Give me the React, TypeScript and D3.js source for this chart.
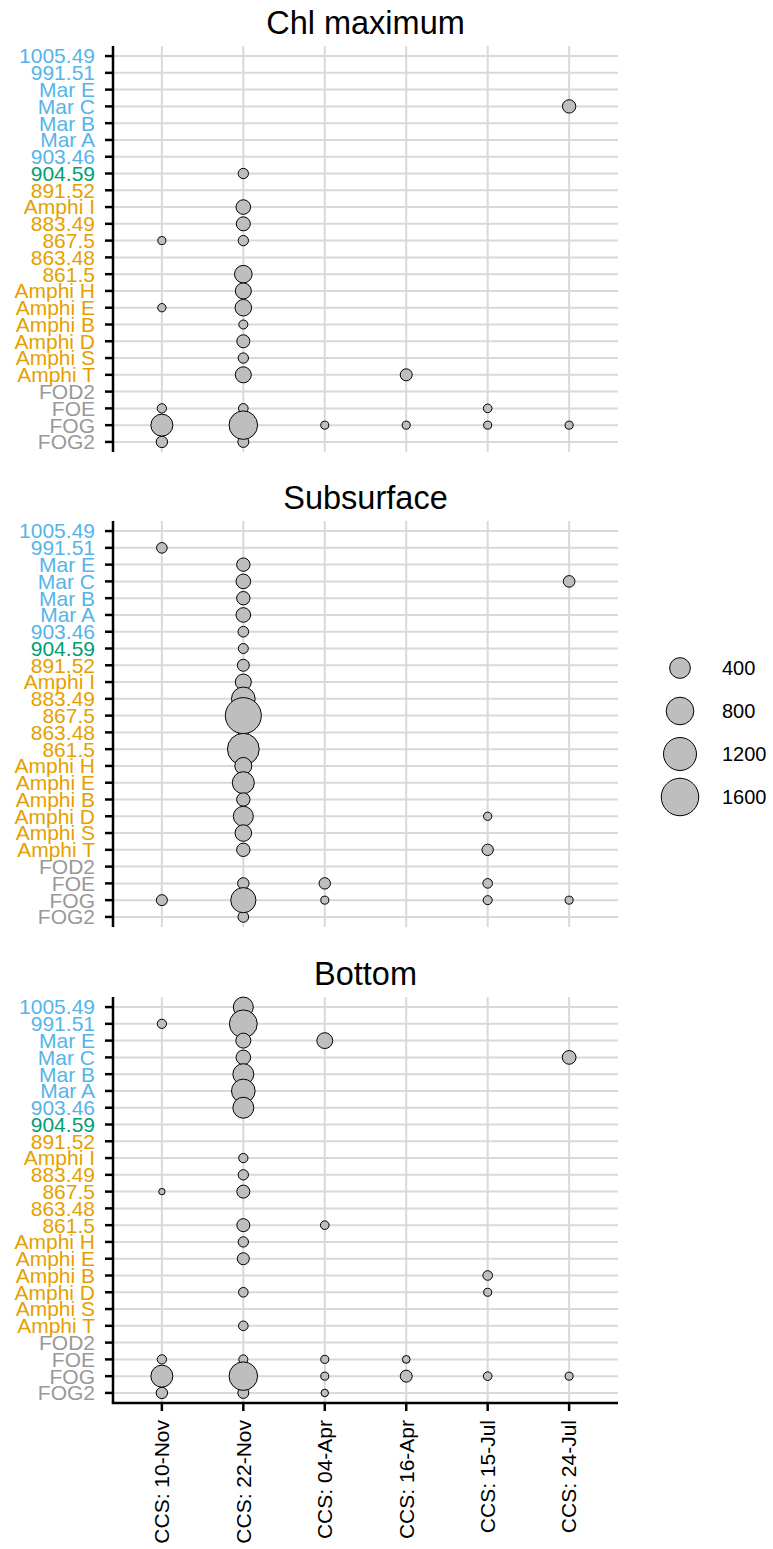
import React from "react";
import * as d3 from "d3";

const sites = ["1005.49","991.51","Mar E","Mar C","Mar B","Mar A","903.46","904.59","891.52","Amphi I","883.49","867.5","863.48","861.5","Amphi H","Amphi E","Amphi B","Amphi D","Amphi S","Amphi T","FOD2","FOE","FOG","FOG2"];
const siteGroup = ["blue","blue","blue","blue","blue","blue","blue","green","orange","orange","orange","orange","orange","orange","orange","orange","orange","orange","orange","orange","gray","gray","gray","gray"];
const groupColors: Record<string,string> = { blue: "#56B4E9", green: "#009E73", orange: "#E69F00", gray: "#999999" };
const dates = ["CCS: 10-Nov","CCS: 22-Nov","CCS: 04-Apr","CCS: 16-Apr","CCS: 15-Jul","CCS: 24-Jul"];
const depths = ["Chl maximum","Subsurface","Bottom"];
const legendBreaks = [400, 800, 1200, 1600];

type Row = [string, string, number];

const chlMaximum: Row[] = [
  ["867.5","CCS: 10-Nov",23],["Amphi E","CCS: 10-Nov",27],["FOE","CCS: 10-Nov",40],["FOG2","CCS: 10-Nov",78],["FOG","CCS: 10-Nov",462],
  ["904.59","CCS: 22-Nov",57],["Amphi I","CCS: 22-Nov",160],["883.49","CCS: 22-Nov",143],["867.5","CCS: 22-Nov",57],["861.5","CCS: 22-Nov",265],
  ["Amphi H","CCS: 22-Nov",206],["Amphi E","CCS: 22-Nov",225],["Amphi B","CCS: 22-Nov",36],["Amphi D","CCS: 22-Nov",116],["Amphi S","CCS: 22-Nov",57],
  ["Amphi T","CCS: 22-Nov",206],["FOE","CCS: 22-Nov",45],["FOG2","CCS: 22-Nov",70],["FOG","CCS: 22-Nov",860],
  ["FOG","CCS: 04-Apr",23],
  ["Amphi T","CCS: 16-Apr",91],["FOG","CCS: 16-Apr",23],
  ["FOE","CCS: 15-Jul",31],["FOG","CCS: 15-Jul",23],
  ["Mar C","CCS: 24-Jul",125],["FOG","CCS: 24-Jul",23],
];

const subsurface: Row[] = [
  ["991.51","CCS: 10-Nov",63],["FOG","CCS: 10-Nov",70],
  ["Mar E","CCS: 22-Nov",125],["Mar C","CCS: 22-Nov",160],["Mar B","CCS: 22-Nov",125],["Mar A","CCS: 22-Nov",160],["903.46","CCS: 22-Nov",63],
  ["904.59","CCS: 22-Nov",51],["891.52","CCS: 22-Nov",91],["Amphi I","CCS: 22-Nov",206],["883.49","CCS: 22-Nov",550],["863.48","CCS: 22-Nov",51],
  ["867.5","CCS: 22-Nov",1460],["861.5","CCS: 22-Nov",1100],["Amphi H","CCS: 22-Nov",241],["Amphi E","CCS: 22-Nov",462],["Amphi B","CCS: 22-Nov",125],
  ["Amphi D","CCS: 22-Nov",365],["Amphi S","CCS: 22-Nov",225],["Amphi T","CCS: 22-Nov",125],["FOE","CCS: 22-Nov",78],["FOG2","CCS: 22-Nov",63],["FOG","CCS: 22-Nov",640],
  ["FOE","CCS: 04-Apr",78],["FOG","CCS: 04-Apr",23],
  ["Amphi D","CCS: 15-Jul",27],["Amphi T","CCS: 15-Jul",78],["FOE","CCS: 15-Jul",45],["FOG","CCS: 15-Jul",36],
  ["Mar C","CCS: 24-Jul",83],["FOG","CCS: 24-Jul",23],
];

const bottom: Row[] = [
  ["991.51","CCS: 10-Nov",40],["867.5","CCS: 10-Nov",8],["FOE","CCS: 10-Nov",40],["FOG2","CCS: 10-Nov",78],["FOG","CCS: 10-Nov",462],
  ["1005.49","CCS: 22-Nov",365],["991.51","CCS: 22-Nov",810],["Mar E","CCS: 22-Nov",173],["Mar C","CCS: 22-Nov",160],["Mar B","CCS: 22-Nov",410],
  ["Mar A","CCS: 22-Nov",550],["903.46","CCS: 22-Nov",410],["Amphi I","CCS: 22-Nov",40],["883.49","CCS: 22-Nov",57],["867.5","CCS: 22-Nov",116],
  ["861.5","CCS: 22-Nov",116],["Amphi H","CCS: 22-Nov",57],["Amphi E","CCS: 22-Nov",91],["Amphi D","CCS: 22-Nov",45],["Amphi T","CCS: 22-Nov",45],
  ["FOE","CCS: 22-Nov",36],["FOG2","CCS: 22-Nov",70],["FOG","CCS: 22-Nov",860],
  ["Mar E","CCS: 04-Apr",200],["861.5","CCS: 04-Apr",31],["FOE","CCS: 04-Apr",23],["FOG","CCS: 04-Apr",23],["FOG2","CCS: 04-Apr",17],
  ["FOE","CCS: 16-Apr",20],["FOG","CCS: 16-Apr",91],
  ["Amphi B","CCS: 15-Jul",45],["Amphi D","CCS: 15-Jul",23],["FOG","CCS: 15-Jul",31],
  ["Mar C","CCS: 24-Jul",135],["FOG","CCS: 24-Jul",23],
];

const panelData = [chlMaximum, subsurface, bottom];

const W = 773, H = 1549;
const FONT = "'Liberation Sans', Arial, sans-serif";
const panelLeft = 113, panelRight = 618;
const panelTops = [46, 521, 997];
const panelH = 406;

export default function App() {
  const x = d3.scalePoint<string>().domain(dates).range([panelLeft, panelRight]).padding(0.6);
  const r = d3.scaleSqrt().domain([0, 1650]).range([2, 19]);
  const gridColor = "#d9d9d9";

  return (
    <div style={{ position: "absolute", left: 0, top: 0 }}>
      <svg width={W} height={H} style={{ display: "block", background: "#fff" }} fontFamily={FONT}>
        {depths.map((depth, pi) => {
          const top = panelTops[pi];
          const y = d3.scalePoint<string>().domain(sites).range([top, top + panelH]).padding(0.6);
          const isLast = pi === depths.length - 1;
          return (
            <g key={depth}>
              <text x={(panelLeft + panelRight) / 2} y={top - 12} textAnchor="middle" fontSize={32.5} fill="#000">{depth}</text>
              {sites.map(s => (
                <line key={"h" + s} x1={panelLeft} x2={panelRight} y1={y(s)} y2={y(s)} stroke={gridColor} strokeWidth={2} />
              ))}
              {dates.map(d => (
                <line key={"v" + d} x1={x(d)} x2={x(d)} y1={top} y2={top + panelH} stroke={gridColor} strokeWidth={2} />
              ))}
              {panelData[pi].map((row, i) => (
                <circle key={i} cx={x(row[1])} cy={y(row[0])} r={r(row[2])} fill="#BEBEBE" stroke="#000" strokeWidth={1} />
              ))}
              <line x1={panelLeft} x2={panelLeft} y1={top} y2={top + panelH} stroke="#000" strokeWidth={2.5} />
              {sites.map((s, i) => (
                <g key={"t" + s}>
                  <line x1={panelLeft - 8} x2={panelLeft} y1={y(s)} y2={y(s)} stroke="#000" strokeWidth={2.5} />
                  <text x={panelLeft - 18} y={y(s)} dy="0.35em" textAnchor="end" fontSize={21} fill={groupColors[siteGroup[i]]}>{s}</text>
                </g>
              ))}
              {isLast && (
                <g>
                  <line x1={panelLeft - 1.25} x2={panelRight} y1={top + panelH} y2={top + panelH} stroke="#000" strokeWidth={2.5} />
                  {dates.map(d => (
                    <g key={"xt" + d}>
                      <line x1={x(d)} x2={x(d)} y1={top + panelH} y2={top + panelH + 8} stroke="#000" strokeWidth={2.5} />
                      <text transform={`translate(${x(d)},${top + panelH + 17}) rotate(-90)`} dy="0.35em" textAnchor="end" fontSize={21} fill="#000">{d}</text>
                    </g>
                  ))}
                </g>
              )}
            </g>
          );
        })}
        <g>
          {legendBreaks.map((b, i) => {
            const cy = 668 + i * 43;
            return (
              <g key={b}>
                <circle cx={680} cy={cy} r={r(b)} fill="#BEBEBE" stroke="#000" strokeWidth={1} />
                <text x={722} y={cy} dy="0.35em" fontSize={20} fill="#000">{b}</text>
              </g>
            );
          })}
        </g>
      </svg>
    </div>
  );
}
